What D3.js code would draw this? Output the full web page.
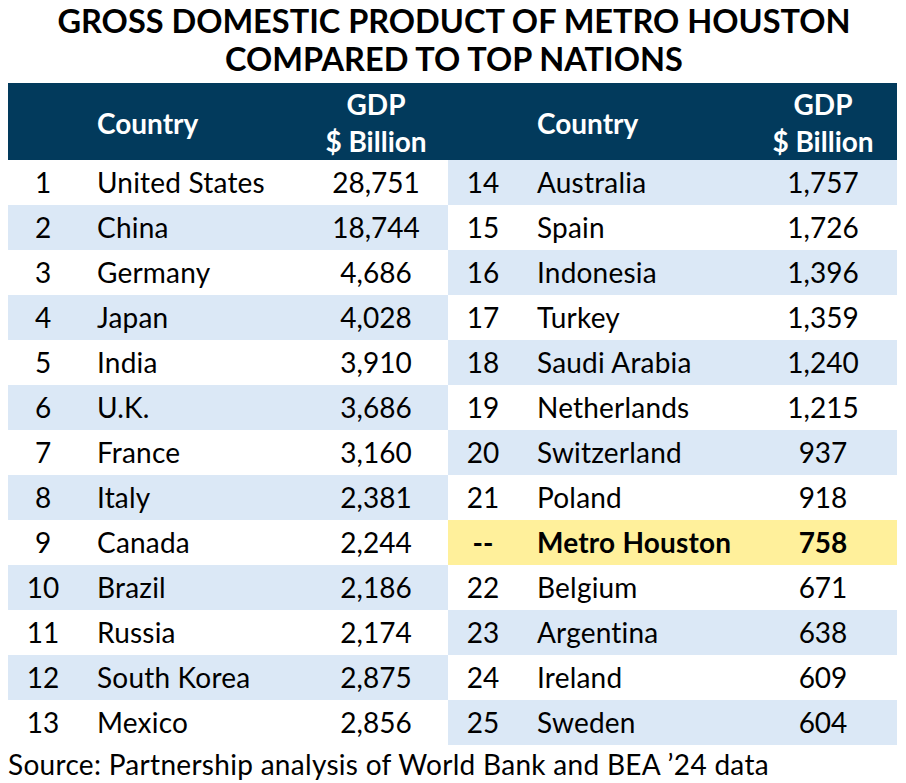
<!DOCTYPE html>
<html>
<head>
<meta charset="utf-8">
<script src="https://cdn.jsdelivr.net/npm/d3@7"></script>
<style>
  body { margin: 0; background: #fff; }
  svg text { font-family: Lato, "Open Sans", sans-serif; }
</style>
</head>
<body>
<svg class="gdpTable" width="906" height="783"></svg>
<script>
var svg = d3.select("svg.gdpTable");

// Data
var leftRanks = ["1", "2", "3", "4", "5", "6", "7", "8", "9", "10", "11", "12", "13"];
var leftCountries = ["United States", "China", "Germany", "Japan", "India", "U.K.", "France",
    "Italy", "Canada", "Brazil", "Russia", "South Korea", "Mexico"];
var leftGdp = [28751, 18744, 4686, 4028, 3910, 3686, 3160, 2381, 2244, 2186, 2174, 2875, 2856];

var rightRanks = ["14", "15", "16", "17", "18", "19", "20", "21", "--", "22", "23", "24", "25"];
var rightCountries = ["Australia", "Spain", "Indonesia", "Turkey", "Saudi Arabia", "Netherlands",
    "Switzerland", "Poland", "Metro Houston", "Belgium", "Argentina", "Ireland", "Sweden"];
var rightGdp = [1757, 1726, 1396, 1359, 1240, 1215, 937, 918, 758, 671, 638, 609, 604];

var highlight = "Metro Houston";

var titleLines = ["GROSS DOMESTIC PRODUCT OF METRO HOUSTON", "COMPARED TO TOP NATIONS"];
var headerCountry = "Country";
var headerGdp = ["GDP", "$ Billion"];
var source = "Source: Partnership analysis of World Bank and BEA \u201924 data";

var navy = "#023a5c";
var stripe = "#dbe8f6";
var yellow = "#fff09b";

var fmt = d3.format(",");
var bodySize = 28;

var headTop = 83, headBottom = 160, tableBottom = 745;

var y = d3.scaleBand()
    .domain(d3.range(leftRanks.length))
    .range([headBottom, tableBottom]);

// two side-by-side panels
var panels = [
    { x0: 8, x1: 448, rank: 43, country: 97, value: 376,
      ranks: leftRanks, countries: leftCountries, gdp: leftGdp, stripeOdd: true },
    { x0: 448, x1: 897, rank: 483, country: 537, value: 823,
      ranks: rightRanks, countries: rightCountries, gdp: rightGdp, stripeOdd: false }
];

// title
svg.append("g")
    .selectAll("text")
    .data(titleLines)
    .enter().append("text")
    .attr("x", 454)
    .attr("y", function(d, i) { return 33 + i * 38; })
    .attr("text-anchor", "middle")
    .attr("font-size", 32.5)
    .attr("font-weight", "bold")
    .attr("fill", "#000")
    .text(function(d) { return d; });

// header band
svg.append("rect")
    .attr("x", 8)
    .attr("y", headTop)
    .attr("width", 897 - 8)
    .attr("height", headBottom - headTop)
    .attr("fill", navy);

panels.forEach(function(p) {
    var g = svg.append("g").attr("class", "panel");

    g.append("text")
        .attr("x", p.country)
        .attr("y", 124)
        .attr("dy", "0.35em")
        .attr("font-size", 28)
        .attr("font-weight", "bold")
        .attr("fill", "#fff")
        .text(headerCountry);

    g.selectAll(".gdp-head")
        .data(headerGdp)
        .enter().append("text")
        .attr("class", "gdp-head")
        .attr("x", p.value)
        .attr("y", function(d, i) { return 105 + i * 37; })
        .attr("dy", "0.35em")
        .attr("text-anchor", "middle")
        .attr("font-size", 28)
        .attr("font-weight", "bold")
        .attr("fill", "#fff")
        .text(function(d) { return d; });

    var rows = g.selectAll(".row")
        .data(p.countries)
        .enter().append("g")
        .attr("class", "row")
        .attr("transform", function(d, i) { return "translate(0," + y(i) + ")"; });

    rows.append("rect")
        .attr("x", p.x0)
        .attr("width", p.x1 - p.x0)
        .attr("height", y.bandwidth())
        .attr("fill", function(d, i) {
            if (d === highlight) return yellow;
            var odd = i % 2 === 1;
            return odd === p.stripeOdd ? stripe : "none";
        });

    var mid = y.bandwidth() / 2 + 1;

    rows.append("text")
        .attr("x", p.rank)
        .attr("y", mid)
        .attr("dy", "0.35em")
        .attr("text-anchor", "middle")
        .attr("font-size", bodySize)
        .attr("font-weight", function(d) { return d === highlight ? "bold" : "normal"; })
        .text(function(d, i) { return p.ranks[i]; });

    rows.append("text")
        .attr("x", p.country)
        .attr("y", mid)
        .attr("dy", "0.35em")
        .attr("font-size", bodySize)
        .attr("letter-spacing", 0.2)
        .attr("font-weight", function(d) { return d === highlight ? "bold" : "normal"; })
        .text(function(d) { return d; });

    rows.append("text")
        .attr("x", p.value)
        .attr("y", mid)
        .attr("dy", "0.35em")
        .attr("text-anchor", "middle")
        .attr("font-size", bodySize)
        .attr("font-weight", function(d) { return d === highlight ? "bold" : "normal"; })
        .text(function(d, i) { return fmt(p.gdp[i]); });
});

// source note
svg.append("text")
    .attr("x", 8)
    .attr("y", 775)
    .attr("font-size", bodySize)
    .attr("letter-spacing", 0.3)
    .attr("fill", "#000")
    .text(source);
</script>
</body>
</html>
